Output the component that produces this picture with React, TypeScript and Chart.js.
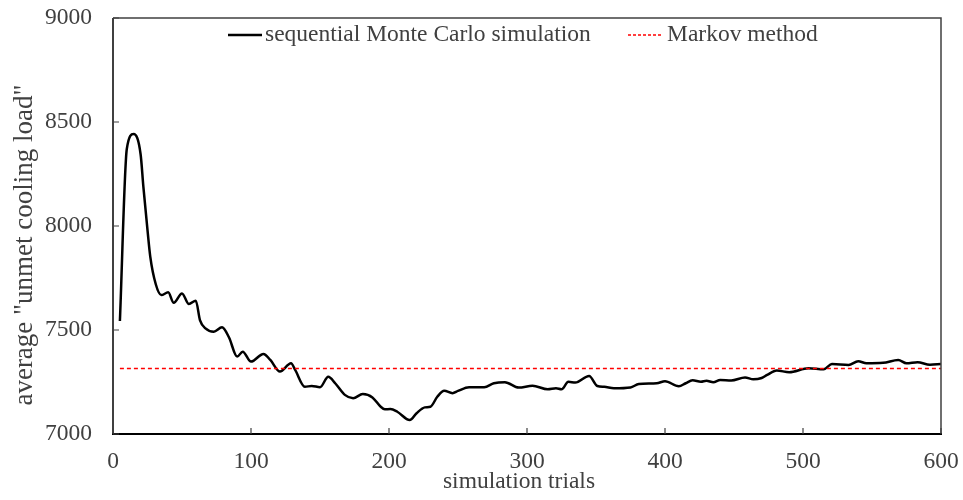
import React, { useEffect, useRef } from "react";
import { Chart, registerables } from "chart.js";

Chart.register(...registerables);

// Running average of unmet cooling load versus number of simulation trials
const trials = [
  5, 10, 15, 20, 22, 25, 27, 31, 35, 40, 44, 50, 55, 60, 63, 67, 73, 79, 84, 90,
  94, 100, 109, 114, 121, 129, 132, 139, 144, 150, 156, 161, 168, 174, 181, 188,
  194, 197, 201, 206, 215, 220, 226, 230, 235, 240, 246, 250, 258, 269, 276, 284,
  294, 304, 315, 321, 325, 330, 335, 345, 351, 356, 363, 375, 381, 394, 400, 410,
  415, 420, 426, 430, 435, 440, 448, 458, 464, 470, 474, 481, 490, 504, 515, 521,
  533, 540, 546, 558, 569, 575, 583, 592, 600,
];
const unmetLoad = [
  7543, 8370, 8442, 8345, 8189, 7980, 7853, 7720, 7668, 7681, 7631, 7676, 7625,
  7641, 7548, 7508, 7492, 7513, 7465, 7372, 7396, 7348, 7385, 7356, 7300, 7340,
  7308, 7227, 7231, 7225, 7275, 7244, 7188, 7172, 7192, 7176, 7131, 7119, 7120,
  7107, 7067, 7100, 7128, 7131, 7179, 7208, 7196, 7207, 7225, 7225, 7244, 7249,
  7223, 7232, 7215, 7220, 7215, 7251, 7247, 7279, 7231, 7227, 7220, 7224, 7240,
  7244, 7254, 7229, 7244, 7258, 7251, 7256, 7249, 7260, 7257, 7272, 7263, 7269,
  7284, 7305, 7297, 7316, 7311, 7336, 7332, 7350, 7340, 7342, 7356, 7340, 7345,
  7333, 7336,
];

// Analytical result from the Markov model
const markovTrials = [5, 600];
const markovLoad = [7315, 7315];

const xTicks = [0, 100, 200, 300, 400, 500, 600];
const yTicks = [7000, 7500, 8000, 8500, 9000];
const seriesNames = ["sequential Monte Carlo simulation", "Markov method"];
const xTitle = "simulation trials";
const yTitle = 'average "unmet cooling load"';

const FONT = "'Liberation Serif', 'Times New Roman', serif";
const TEXT = "#404040";
const FONT_SIZE = 23.5;

// Box around the plot area plus inward tick marks
const framePlugin = {
  id: "frame",
  afterDatasetsDraw(chart: any) {
    const { ctx, chartArea: a, scales } = chart;
    ctx.save();
    ctx.strokeStyle = "#404040";
    ctx.lineWidth = 1.5;
    ctx.beginPath();
    ctx.moveTo(a.left, a.top);
    ctx.lineTo(a.right, a.top);
    ctx.lineTo(a.right, a.bottom);
    ctx.stroke();

    ctx.lineWidth = 2;
    ctx.strokeStyle = "#404040";
    ctx.beginPath();
    ctx.moveTo(a.left, a.top);
    ctx.lineTo(a.left, a.bottom + 1);
    ctx.stroke();
    ctx.strokeStyle = "#000";
    ctx.beginPath();
    ctx.moveTo(a.left - 1, a.bottom);
    ctx.lineTo(a.right + 1, a.bottom);
    ctx.stroke();

    ctx.lineWidth = 1.2;
    ctx.strokeStyle = "#404040";
    ctx.beginPath();
    xTicks.forEach((v) => {
      const px = scales.x.getPixelForValue(v);
      ctx.moveTo(px, a.bottom);
      ctx.lineTo(px, a.bottom - 6);
    });
    yTicks.forEach((v) => {
      const py = scales.y.getPixelForValue(v);
      ctx.moveTo(a.left, py);
      ctx.lineTo(a.left + 6, py);
    });
    ctx.stroke();
    ctx.restore();
  },
};

// Legend row inside the top of the plot area, and both axis titles
const textPlugin = {
  id: "insideLegend",
  afterDraw(chart: any) {
    const { ctx } = chart;
    const y = 35;
    ctx.save();
    ctx.font = `${FONT_SIZE}px ${FONT}`;
    ctx.fillStyle = TEXT;
    ctx.textBaseline = "middle";

    ctx.strokeStyle = "#000";
    ctx.lineWidth = 2.5;
    ctx.beginPath();
    ctx.moveTo(228, y);
    ctx.lineTo(262, y);
    ctx.stroke();
    ctx.fillText(seriesNames[0], 265, y);

    ctx.strokeStyle = "#ff0000";
    ctx.lineWidth = 1.5;
    ctx.setLineDash([3, 2]);
    ctx.beginPath();
    ctx.moveTo(628, y);
    ctx.lineTo(662, y);
    ctx.stroke();
    ctx.setLineDash([]);
    ctx.fillText(seriesNames[1], 667, y);

    ctx.textAlign = "center";
    ctx.fillText(xTitle, 519, 482);

    ctx.translate(25, 245);
    ctx.rotate(-Math.PI / 2);
    ctx.font = `27px ${FONT}`;
    ctx.fillText(yTitle, 0, 0);
    ctx.restore();
  },
};

export default function App() {
  const canvasRef = useRef<HTMLCanvasElement | null>(null);

  useEffect(() => {
    const canvas = canvasRef.current;
    if (!canvas) return;
    const font = { family: FONT, size: FONT_SIZE };

    const chart = new Chart(canvas, {
      type: "line",
      data: {
        datasets: [
          {
            label: seriesNames[0],
            data: trials.map((t, i) => ({ x: t, y: unmetLoad[i] })),
            borderColor: "#000000",
            borderWidth: 2.5,
            pointRadius: 0,
            cubicInterpolationMode: "monotone",
            fill: false,
            order: 2,
          },
          {
            label: seriesNames[1],
            data: markovTrials.map((t, i) => ({ x: t, y: markovLoad[i] })),
            borderColor: "#ff0000",
            borderWidth: 1.5,
            borderDash: [4, 3],
            pointRadius: 0,
            fill: false,
            order: 1,
          },
        ],
      },
      options: {
        responsive: false,
        animation: false,
        layout: { padding: { top: 18, right: 22, left: 0, bottom: 0 } },
        plugins: {
          legend: { display: false },
          tooltip: { enabled: false },
        },
        scales: {
          x: {
            type: "linear",
            min: 0,
            max: 600,
            afterFit: (s: any) => {
              s.height = 66;
              s.paddingLeft = 0;
              s.paddingRight = 0;
            },
            afterBuildTicks: (s: any) => {
              s.ticks = xTicks.map((v) => ({ value: v }));
            },
            grid: { display: false, drawTicks: false, tickLength: 0 },
            border: { display: false },
            ticks: {
              font,
              color: TEXT,
              padding: 14,
              maxRotation: 0,
              callback: (v: any) => String(v),
            },
          },
          y: {
            type: "linear",
            min: 7000,
            max: 9000,
            afterFit: (s: any) => {
              s.width = 113;
              s.paddingTop = 0;
              s.paddingBottom = 0;
            },
            afterBuildTicks: (s: any) => {
              s.ticks = yTicks.map((v) => ({ value: v }));
            },
            grid: { display: false, drawTicks: false, tickLength: 0 },
            border: { display: false },
            ticks: {
              font,
              color: TEXT,
              padding: 21,
              callback: (v: any) => String(v),
            },
          },
        },
      },
      plugins: [framePlugin, textPlugin],
    });

    return () => chart.destroy();
  }, []);

  return (
    <canvas
      ref={canvasRef}
      width={963}
      height={500}
      style={{ position: "fixed", left: 0, top: 0, width: 963, height: 500 }}
    />
  );
}
